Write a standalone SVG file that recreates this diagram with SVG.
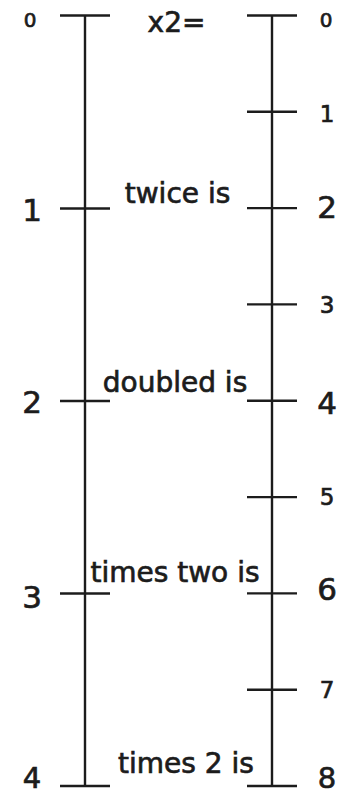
<svg xmlns="http://www.w3.org/2000/svg" width="352" height="796" viewBox="0 0 352 796">
<style>
.ax{stroke:#1c1c1c;stroke-width:2.4;fill:none}
text{font-family:"DejaVu Sans",sans-serif;fill:#1c1c1c;stroke:#1c1c1c;stroke-width:0.7;text-anchor:middle}
.lbl{font-size:28px}
.big{font-size:31px}
.bot{font-size:29px}
.odd{font-size:23px}
.zero{font-size:20px}
</style>
<rect width="352" height="796" fill="#fff"/>
<g id="connectors">
<line class="ax" x1="85" y1="15.5" x2="85" y2="786"/>
<line class="ax" x1="272" y1="15.5" x2="272" y2="786"/>
</g>
<g id="left-axis">
<line class="ax" x1="60" y1="15.5" x2="110" y2="15.5"/>
<line class="ax" x1="60" y1="208.5" x2="110" y2="208.5"/>
<line class="ax" x1="60" y1="401" x2="110" y2="401"/>
<line class="ax" x1="60" y1="593.5" x2="110" y2="593.5"/>
<line class="ax" x1="60" y1="786" x2="110" y2="786"/>
<text class="zero" x="30" y="27">0</text>
<text class="big" x="32" y="221">1</text>
<text class="big" x="32" y="413">2</text>
<text class="big" x="32" y="608">3</text>
<text class="bot" x="32" y="788">4</text>
</g>
<g id="right-axis">
<line class="ax" x1="247" y1="15.5" x2="297" y2="15.5"/>
<line class="ax" x1="247" y1="111.8" x2="297" y2="111.8"/>
<line class="ax" x1="247" y1="208.1" x2="297" y2="208.1"/>
<line class="ax" x1="247" y1="304.4" x2="297" y2="304.4"/>
<line class="ax" x1="247" y1="400.8" x2="297" y2="400.8"/>
<line class="ax" x1="247" y1="497.1" x2="297" y2="497.1"/>
<line class="ax" x1="247" y1="593.4" x2="297" y2="593.4"/>
<line class="ax" x1="247" y1="689.7" x2="297" y2="689.7"/>
<line class="ax" x1="247" y1="786" x2="297" y2="786"/>
<text class="zero" x="326" y="27">0</text>
<text class="odd" x="327" y="122">1</text>
<text class="big" x="327" y="218">2</text>
<text class="odd" x="327" y="313">3</text>
<text class="big" x="327" y="414">4</text>
<text class="odd" x="327" y="505">5</text>
<text class="big" x="327" y="600">6</text>
<text class="odd" x="327" y="698">7</text>
<text class="bot" x="327" y="788">8</text>
</g>
<g id="labels">
<text class="lbl" x="176.5" y="32">x2=</text>
<text class="lbl" x="177.5" y="203">twice is</text>
<text class="lbl" x="175" y="392">doubled is</text>
<text class="lbl" x="175" y="582">times two is</text>
<text class="lbl" x="186" y="773">times 2 is</text>
</g>
</svg>
